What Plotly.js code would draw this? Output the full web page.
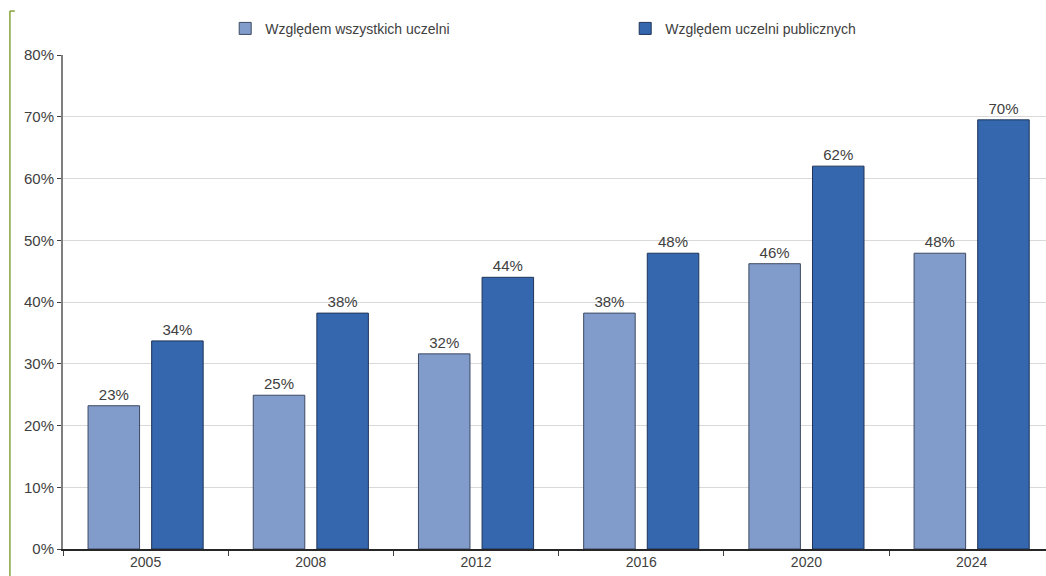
<!DOCTYPE html>
<html>
<head>
<meta charset="utf-8">
<script src="https://cdn.plot.ly/plotly-3.0.1.min.js"></script>
<style>html,body{margin:0;padding:0;background:#fff;}#chart{width:1046px;height:576px;}</style>
</head>
<body>
<div id="chart"></div>
<script>
const categories = ['2005', '2008', '2012', '2016', '2020', '2024'];
const seriesNames = ['Względem wszystkich uczelni', 'Względem uczelni publicznych'];
const allUniversities = [23.2, 24.9, 31.6, 38.2, 46.2, 47.9];
const publicUniversities = [33.7, 38.2, 44.0, 47.9, 62.0, 69.5];
const yTickValues = [0, 10, 20, 30, 40, 50, 60, 70, 80];
const yTickLabels = ['0%', '10%', '20%', '30%', '40%', '50%', '60%', '70%', '80%'];

const textFont = {family: 'Liberation Sans, Arial, sans-serif', size: 15, color: '#404040'};

const traces = [
  {
    type: 'bar', name: seriesNames[0], x: categories, y: allUniversities,
    marker: {color: '#819bcb', line: {color: '#3d4a63', width: 1}},
    texttemplate: '%{y:.0f}%', textposition: 'outside', textfont: textFont,
    cliponaxis: false, hoverinfo: 'skip'
  },
  {
    type: 'bar', name: seriesNames[1], x: categories, y: publicUniversities,
    marker: {color: '#3467ad', line: {color: '#1f3558', width: 1}},
    texttemplate: '%{y:.0f}%', textposition: 'outside', textfont: textFont,
    cliponaxis: false, hoverinfo: 'skip'
  }
];

const layout = {
  width: 1046, height: 576,
  margin: {l: 63, r: 0, t: 55, b: 27},
  paper_bgcolor: '#ffffff', plot_bgcolor: '#ffffff',
  font: {family: 'Liberation Sans, Arial, sans-serif', size: 14, color: '#404040'},
  barmode: 'group', bargap: 0.23, bargroupgap: 0.19,
  showlegend: true,
  legend: {
    orientation: 'h', x: 0.165, xanchor: 'left', y: 1.053, yanchor: 'middle',
    font: {size: 14, color: '#404040'}, entrywidth: 355, itemwidth: 30
  },
  xaxis: {
    type: 'category', range: [-0.5, 5.45],
    showline: true, linecolor: '#262626', linewidth: 1.5,
    ticks: 'outside', tickson: 'boundaries', ticklen: 5, tickcolor: '#404040',
    showgrid: false, tickfont: {size: 14, color: '#404040'}
  },
  yaxis: {
    range: [0, 80], tickvals: yTickValues, ticktext: yTickLabels,
    showline: true, linecolor: '#7f7f7f', linewidth: 2,
    ticks: 'outside', ticklen: 4, tickcolor: '#404040',
    showgrid: true, gridcolor: '#d9d9d9', gridwidth: 1,
    zeroline: false, tickfont: {size: 15, color: '#404040'}
  },
  shapes: [
    {type: 'line', xref: 'paper', yref: 'paper', x0: -0.054, x1: -0.054, y0: 1.089, y1: -0.06,
     line: {color: '#86a33a', width: 1.5}},
    {type: 'line', xref: 'paper', yref: 'paper', x0: -0.054, x1: -0.049, y0: 1.089, y1: 1.089,
     line: {color: '#86a33a', width: 1.5}}
  ]
};

Plotly.newPlot('chart', traces, layout, {displayModeBar: false, staticPlot: true});
</script>
</body>
</html>
